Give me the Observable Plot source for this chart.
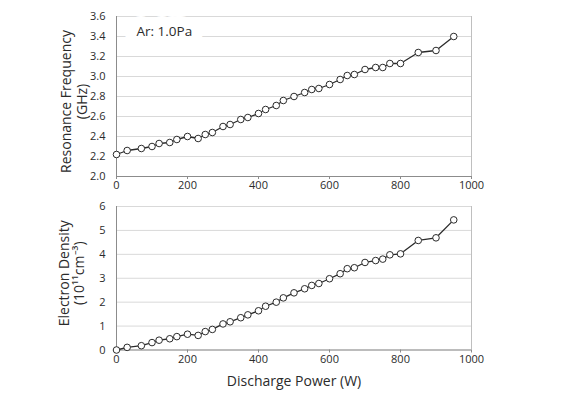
<!DOCTYPE html>
<html><head><meta charset="utf-8">
<script src="https://cdn.jsdelivr.net/npm/d3@7"></script>
<script src="https://cdn.jsdelivr.net/npm/@observablehq/plot@0.6"></script>
<style>
body{margin:0;background:#fff;font-family:"Open Sans",sans-serif;}
#wrap{width:561px;height:397px;overflow:hidden;}
#wrap svg{display:block;}
</style></head><body><div id="wrap"></div>
<script>
const power = [0,30,70,100,120,150,170,200,230,250,270,300,320,350,370,400,420,450,470,500,530,550,570,600,630,650,670,700,730,750,770,800,850,900,950];
const freq = [2.22,2.26,2.28,2.30,2.33,2.34,2.37,2.40,2.38,2.42,2.44,2.50,2.52,2.57,2.59,2.63,2.67,2.71,2.76,2.80,2.84,2.87,2.88,2.92,2.97,3.01,3.02,3.07,3.09,3.09,3.13,3.13,3.24,3.26,3.40];
const density = [0.00,0.11,0.18,0.31,0.41,0.47,0.56,0.66,0.61,0.77,0.86,1.09,1.18,1.35,1.47,1.64,1.83,2.00,2.18,2.39,2.56,2.70,2.78,2.98,3.19,3.40,3.44,3.66,3.74,3.80,3.98,4.02,4.58,4.69,5.44];
const xTicks = [0,200,400,600,800,1000];
const freqTicks = [2.0,2.2,2.4,2.6,2.8,3.0,3.2,3.4,3.6];
const densTicks = [0,1,2,3,4,5,6];
const annotation = "Ar: 1.0Pa";
const freqLabel = "Resonance Frequency\n(GHz)";
const densLabel = "Electron Density\n(10\u00B9\u00B9cm\u207B\u00B3)";
const xLabel = "Discharge Power (W)";

const rows = power.map((p,i)=>({power:p, freq:freq[i], density:density[i]}));
const axisGray = "#8c8c8c", gridGray = "#d9d9d9", ink = "#2b2b2b";
const baseStyle = {fontFamily:"'Open Sans', sans-serif", fontSize:"11px", color:ink, background:"white"};

const topChart = Plot.plot({
  width:561, height:195, marginLeft:116, marginRight:90, marginTop:16, marginBottom:19,
  style: baseStyle,
  x:{domain:[0,1000]},
  y:{domain:[2.0,3.6]},
  marks:[
    Plot.gridY(freqTicks,{stroke:gridGray, strokeOpacity:1}),
    Plot.ruleX([1000],{stroke:"#bfbfbf"}),
    Plot.text([annotation],{frameAnchor:"top-left", dx:20, dy:10, fontSize:13.5, fill:ink, stroke:"white", strokeWidth:22}),
    Plot.axisX({ticks:xTicks, tickSize:3, tickPadding:2, stroke:axisGray, fill:ink, label:null, tickFormat:d=>String(d)}),
    Plot.axisY({ticks:freqTicks, tickSize:0, tickPadding:11, fill:ink, label:null, tickFormat:d=>d.toFixed(1)}),
    Plot.ruleX([0],{stroke:axisGray}),
    Plot.ruleY([2.0],{stroke:axisGray}),
    Plot.line(rows,{x:"power", y:"freq", stroke:ink, strokeWidth:1.3}),
    Plot.dot(rows,{x:"power", y:"freq", r:3.3, fill:"white", stroke:ink, strokeWidth:1}),
    Plot.text([freqLabel],{frameAnchor:"left", textAnchor:"middle", rotate:-90, dx:-42.5, dy:5, fontSize:14, fill:ink, lineAnchor:"middle", lineHeight:1.1})
  ]
});

const bottomChart = Plot.plot({
  width:561, height:202, marginLeft:116, marginRight:90, marginTop:11, marginBottom:47.5,
  style: baseStyle,
  x:{domain:[0,1000]},
  y:{domain:[0,6]},
  marks:[
    Plot.gridY(densTicks,{stroke:gridGray, strokeOpacity:1}),
    Plot.ruleX([1000],{stroke:"#bfbfbf"}),
    Plot.axisX({ticks:xTicks, tickSize:3, tickPadding:2, stroke:axisGray, fill:ink, label:null, tickFormat:d=>String(d)}),
    Plot.axisY({ticks:densTicks, tickSize:0, tickPadding:11, fill:ink, label:null, tickFormat:d=>String(d)}),
    Plot.ruleX([0],{stroke:axisGray}),
    Plot.ruleY([0],{stroke:axisGray}),
    Plot.line(rows,{x:"power", y:"density", stroke:ink, strokeWidth:1.3}),
    Plot.dot(rows,{x:"power", y:"density", r:3.3, fill:"white", stroke:ink, strokeWidth:1}),
    Plot.text([densLabel],{frameAnchor:"left", textAnchor:"middle", rotate:-90, dx:-45, dy:-5, fontSize:14, fill:ink, lineAnchor:"middle", lineHeight:1.1}),
    Plot.text([xLabel],{frameAnchor:"bottom", dy:31.5, fontSize:14, fill:ink, lineAnchor:"middle"})
  ]
});

const wrap = document.getElementById("wrap");
wrap.appendChild(topChart);
wrap.appendChild(bottomChart);
</script></body></html>
